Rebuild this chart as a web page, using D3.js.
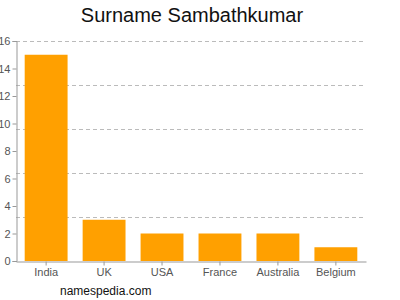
<!DOCTYPE html>
<html>
<head>
<meta charset="utf-8">
<script src="https://cdn.jsdelivr.net/npm/d3@7"></script>
<style>
  body { margin: 0; background: #fff; }
  text { font-family: "Liberation Sans", Arial, sans-serif; }
</style>
</head>
<body>
<div id="chart"></div>
<script>
const countries = ['India', 'UK', 'USA', 'France', 'Australia', 'Belgium'];
const counts = [15, 3, 2, 2, 2, 1];
const yTicks = [0, 2, 4, 6, 8, 10, 12, 14, 16];
const gridValues = [3.2, 6.4, 9.6, 12.8, 16];

const width = 400;
const height = 300;
const margin = { left: 16, right: 34, top: 41, bottom: 39 };

const svg = d3.select('#chart')
  .append('svg')
  .attr('width', width)
  .attr('height', height);

const x = d3.scaleBand()
  .domain(countries)
  .range([margin.left, width - margin.right])
  .paddingInner(0.26)
  .paddingOuter(0.15);

const y = d3.scaleLinear()
  .domain([0, 16])
  .range([height - margin.bottom, margin.top]);

// dashed grid
svg.append('g')
  .selectAll('line')
  .data(gridValues)
  .join('line')
  .attr('x1', margin.left)
  .attr('x2', width - margin.right)
  .attr('y1', d => Math.round(y(d)) + 0.5)
  .attr('y2', d => Math.round(y(d)) + 0.5)
  .attr('stroke', '#bbb')
  .attr('stroke-dasharray', '4,3');

// bars
svg.append('g')
  .selectAll('rect')
  .data(counts)
  .join('rect')
  .attr('x', (d, i) => x(countries[i]))
  .attr('y', d => y(d))
  .attr('width', x.bandwidth())
  .attr('height', d => y(0) - y(d))
  .attr('fill', '#ffa000');

// y axis
const yAxis = svg.append('g')
  .attr('transform', `translate(${margin.left + 0.5},0)`)
  .call(d3.axisLeft(y).tickValues(yTicks).tickSize(4).tickPadding(2));
yAxis.select('.domain').attr('stroke', '#999');
yAxis.selectAll('.tick line').attr('stroke', '#999');
yAxis.selectAll('.tick text').attr('fill', '#555').style('font-size', '11px');

// x axis
const xAxis = svg.append('g')
  .attr('transform', `translate(0,${y(0) + 0.5})`)
  .call(d3.axisBottom(x).tickSizeInner(4).tickSizeOuter(0).tickPadding(3));
xAxis.select('.domain').attr('stroke', '#999');
xAxis.selectAll('.tick line').attr('stroke', '#999');
xAxis.selectAll('.tick text').attr('fill', '#555').style('font-size', '11px');

// title
svg.append('text')
  .attr('x', 192)
  .attr('y', 22)
  .attr('text-anchor', 'middle')
  .style('font-size', '20px')
  .attr('fill', '#111')
  .text('Surname Sambathkumar');

// footer
svg.append('text')
  .attr('x', 60)
  .attr('y', 295)
  .style('font-size', '12px')
  .attr('fill', '#111')
  .text('namespedia.com');
</script>
</body>
</html>
